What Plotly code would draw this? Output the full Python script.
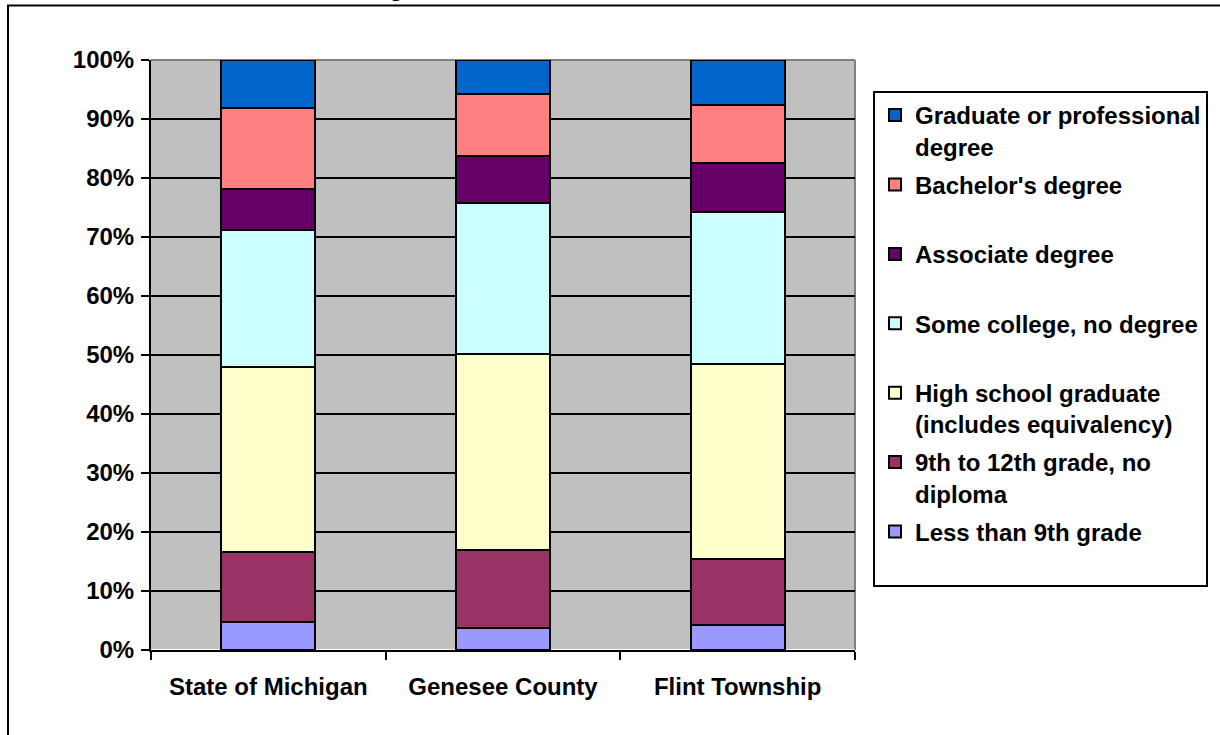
import plotly.graph_objects as go

categories = ["State of Michigan", "Genesee County", "Flint Township"]

series_names = [
    "Less than 9th grade<br> ",
    "9th to 12th grade, no<br>diploma",
    "High school graduate<br>(includes equivalency)",
    "Some college, no degree<br> ",
    "Associate degree<br> ",
    "Bachelor's degree<br> ",
    "Graduate or professional<br>degree",
]
less_9th = [4.7, 3.8, 4.3]
grade_9_12 = [11.9, 13.1, 11.1]
high_school = [31.3, 33.3, 33.0]
some_college = [23.3, 25.5, 25.8]
associate = [7.0, 8.0, 8.3]
bachelor = [13.7, 10.5, 9.8]
graduate = [8.1, 5.8, 7.7]
series_values = [less_9th, grade_9_12, high_school, some_college, associate, bachelor, graduate]
series_colors = ["#9999FF", "#993366", "#FFFFCC", "#CCFFFF", "#660066", "#FF8080", "#0066CC"]

W, H = 1220, 735
L, T = 151, 60
R = W - 855
B = H - 650
pw, ph = W - L - R, H - T - B

def px_x(p):
    return (p - L) / pw

def px_y(p):
    return (H - B - p) / ph

font_family = "Arial, Liberation Sans, sans-serif"

fig = go.Figure()
n = len(series_names)
for i, (name, vals, col) in enumerate(zip(series_names, series_values, series_colors)):
    fig.add_trace(go.Bar(
        x=categories, y=vals, name=name, legendgroup=f"g{i}", legendrank=1000 + (n - i),
        marker=dict(color=col, line=dict(color="black", width=2)),
    ))

fig.update_layout(
    width=W, height=H, autosize=False,
    margin=dict(l=L, r=R, t=T, b=B, pad=0),
    barmode="stack", bargap=0.6,
    paper_bgcolor="white", plot_bgcolor="#C0C0C0",
    font=dict(family=font_family, size=24, color="black", weight="bold"),
    legend=dict(
        x=px_x(873), y=px_y(91), xanchor="left", yanchor="top",
        bgcolor="white", bordercolor="black", borderwidth=2,
        traceorder="grouped", valign="top", tracegroupgap=4,
        font=dict(family=font_family, size=24, color="black", weight="bold"),
    ),
    xaxis=dict(
        tickson="boundaries", ticks="outside", ticklen=8, tickwidth=2, tickcolor="black",
        showline=True, linecolor="black", linewidth=2, showgrid=False,
        ticklabelstandoff=14,
        tickfont=dict(family=font_family, size=24, color="black", weight="bold"),
    ),
    yaxis=dict(
        range=[0, 100], dtick=10, ticksuffix="%",
        ticks="outside", ticklen=8, tickwidth=2, tickcolor="black",
        showline=True, linecolor="black", linewidth=2,
        showgrid=True, gridcolor="black", gridwidth=2,
        ticklabelstandoff=2,
        tickfont=dict(family=font_family, size=24, color="black", weight="bold"),
    ),
    shapes=[
        dict(type="line", xref="paper", yref="paper", x0=0, x1=1, y0=1, y1=1,
             line=dict(color="#808080", width=2), layer="between"),
        dict(type="line", xref="paper", yref="paper", x0=1, x1=1, y0=0, y1=1,
             line=dict(color="#808080", width=2), layer="between"),
        dict(type="rect", xref="paper", yref="paper",
             x0=px_x(8), x1=px_x(1250), y0=px_y(770), y1=px_y(5.5),
             line=dict(color="black", width=2), fillcolor="rgba(0,0,0,0)", layer="above"),
    ],
    annotations=[
        dict(text="Figure 10: Educational Attainment, 2000", xref="paper", yref="paper",
             x=px_x(595), y=px_y(3), xanchor="center", yanchor="bottom", showarrow=False,
             font=dict(family=font_family, size=24, color="black", weight="bold")),
    ],
)

fig.write_html(
    "out.html",
    config={"displayModeBar": False},
    post_script="document.body.style.margin='0';document.body.style.overflow='hidden';",
)
